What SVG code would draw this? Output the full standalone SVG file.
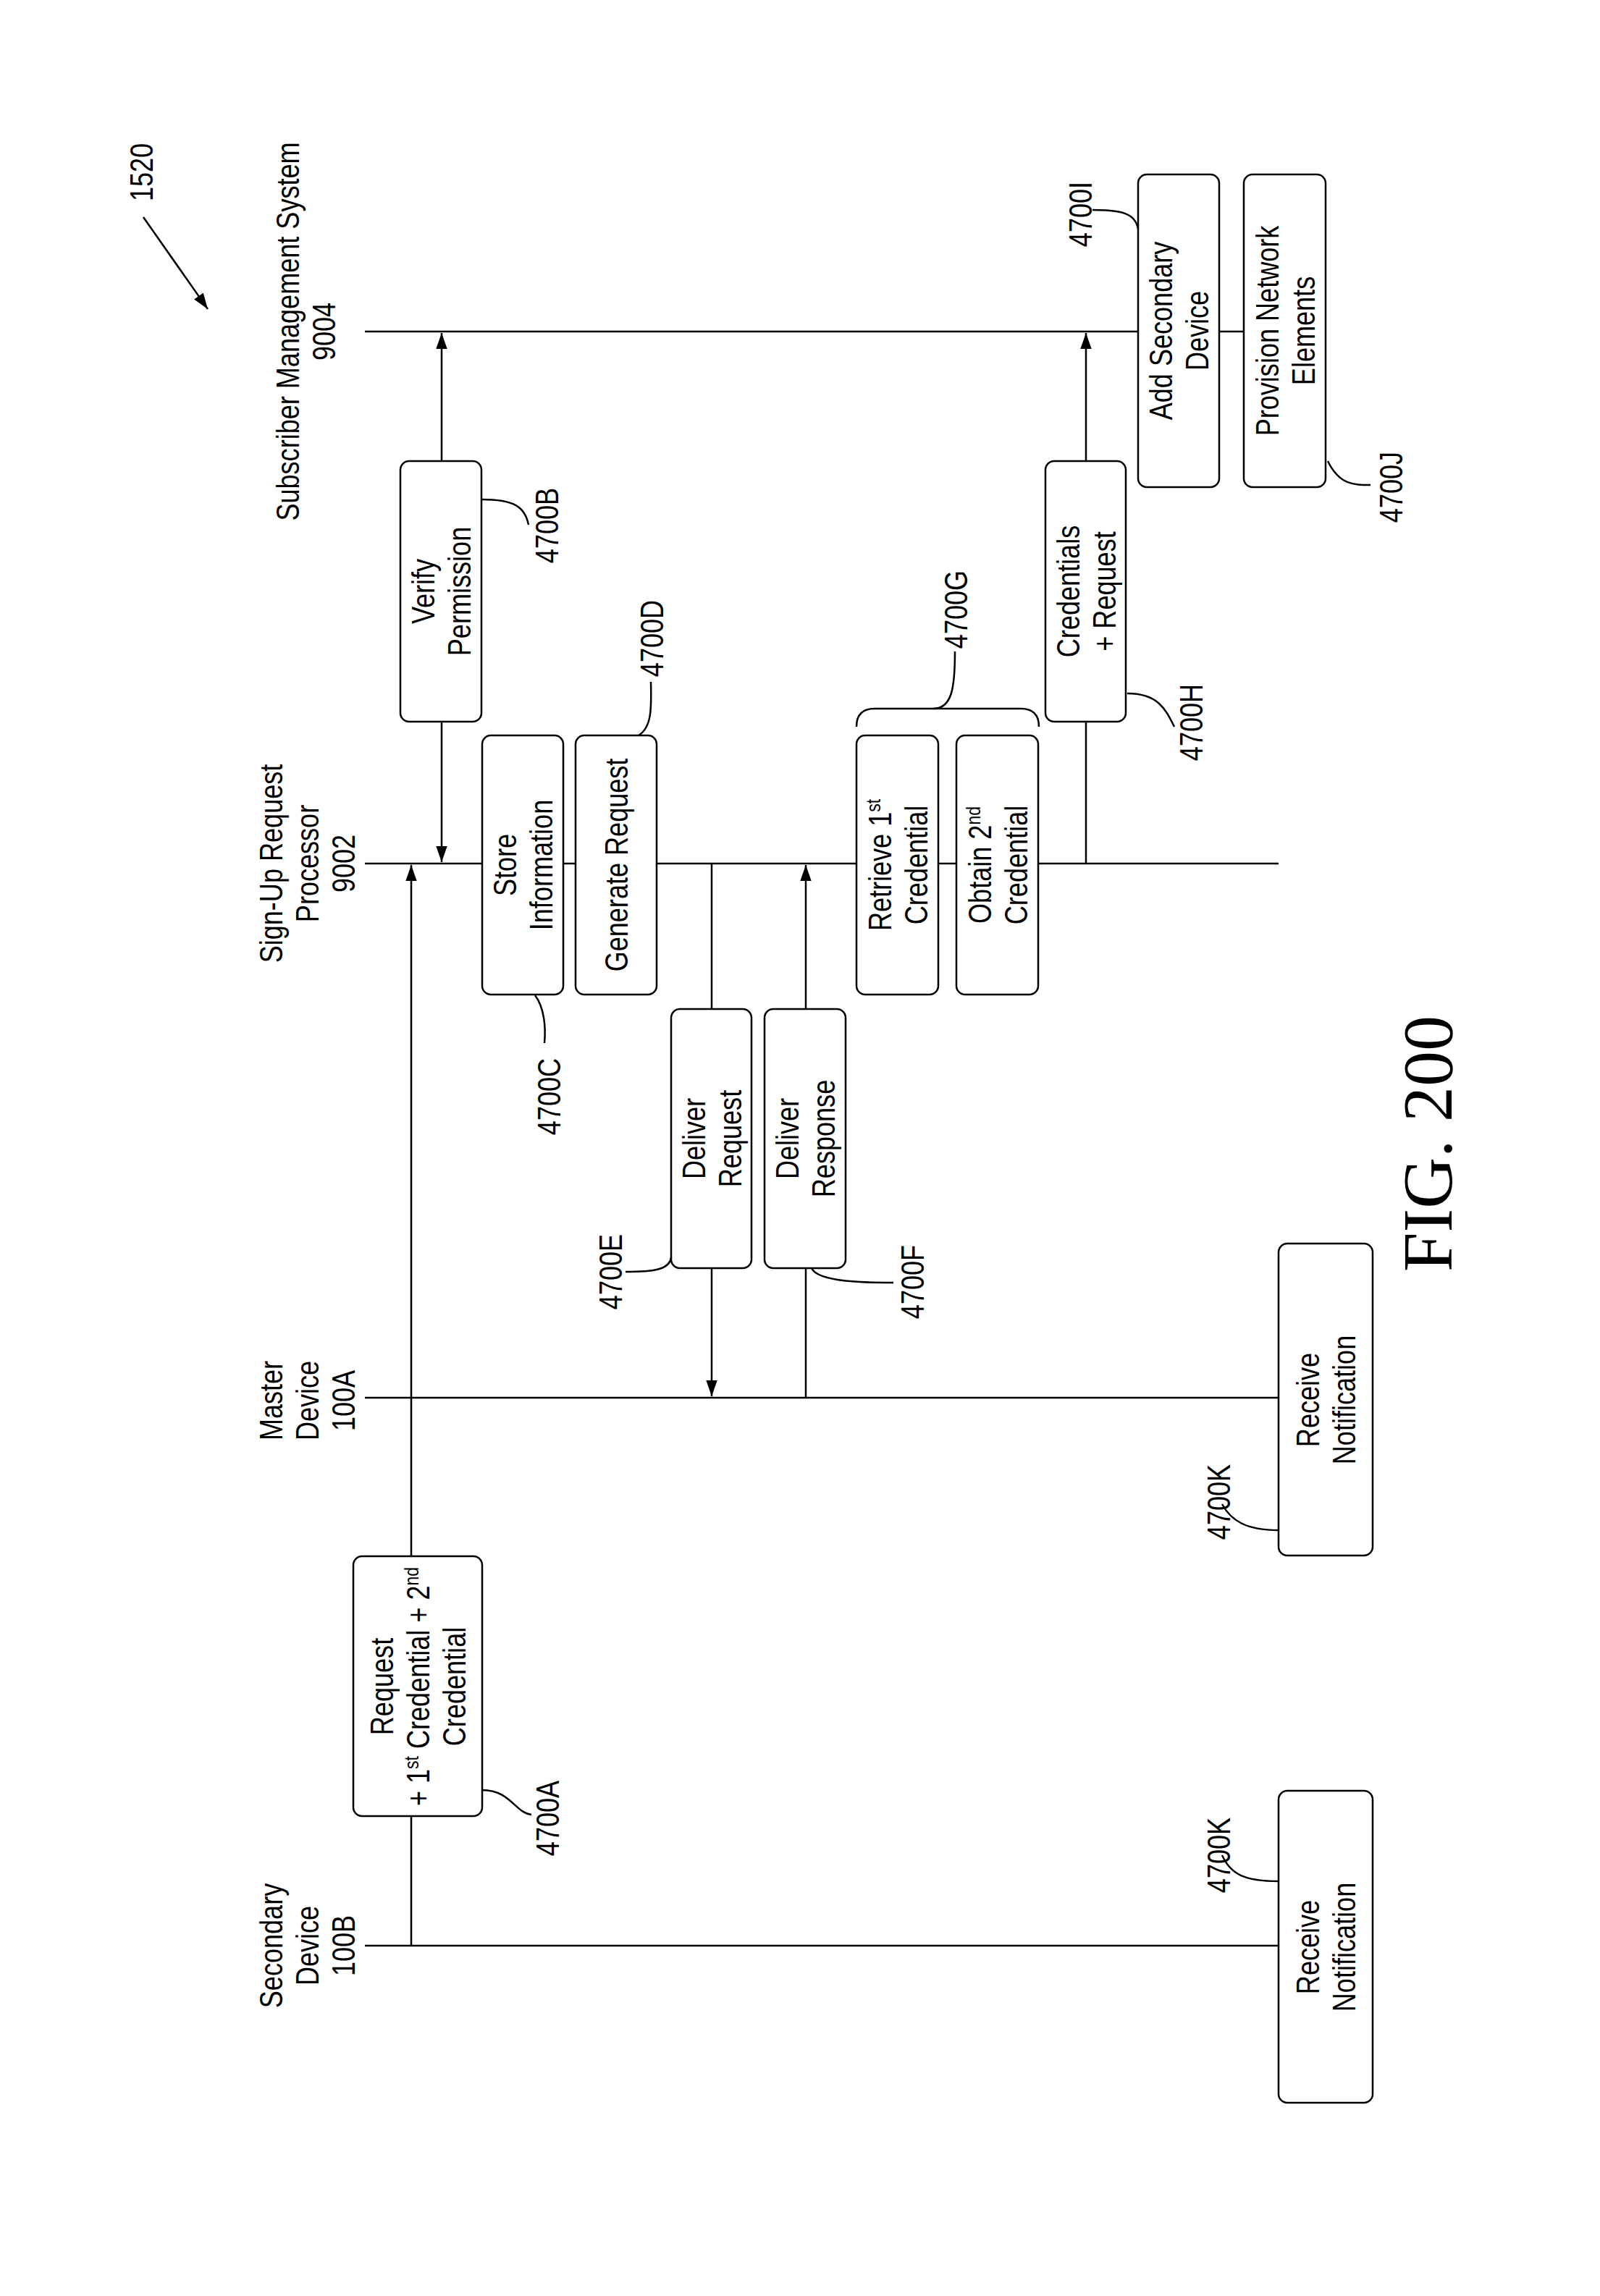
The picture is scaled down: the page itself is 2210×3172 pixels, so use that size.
<svg xmlns="http://www.w3.org/2000/svg" width="2210" height="3172" viewBox="0 0 2210 3172">
<style>
.t{font-family:"Liberation Sans",Arial,sans-serif;font-size:44px;fill:#000;text-anchor:middle}
.b{fill:#fff;stroke:#000;stroke-width:2.5}
.l{stroke:#000;stroke-width:2.5;fill:none}
.s{font-size:28px;baseline-shift:super}
</style>
<defs>
<marker id="ah" viewBox="0 0 10 10" refX="10" refY="5" markerWidth="9" markerHeight="9" markerUnits="userSpaceOnUse" orient="auto-start-reverse"><path d="M0,0 L10,5 L0,10 z" fill="#000"/></marker>
<marker id="a" viewBox="0 0 10 10" refX="10" refY="5" markerWidth="22" markerHeight="22" markerUnits="userSpaceOnUse" orient="auto-start-reverse"><path d="M0,1.5 L10,5 L0,8.5 z" fill="#000"/></marker>
</defs>
<rect width="2210" height="3172" fill="#fff"/>
<g id="lifelines">
<line class="l" x1="504" y1="458" x2="1718" y2="458"/>
<line class="l" x1="504" y1="1193" x2="1766" y2="1193"/>
<line class="l" x1="504" y1="1931" x2="1766" y2="1931"/>
<line class="l" x1="504" y1="2688" x2="1766" y2="2688"/>
</g>
<g id="connectors">
<line class="l" x1="568" y1="2688" x2="568" y2="1195" marker-end="url(#a)"/>
<line class="l" x1="610" y1="460" x2="610" y2="1191" marker-start="url(#a)" marker-end="url(#a)"/>
<line class="l" x1="983" y1="1193" x2="983" y2="1929" marker-end="url(#a)"/>
<line class="l" x1="1113" y1="1931" x2="1113" y2="1195" marker-end="url(#a)"/>
<line class="l" x1="1500" y1="1193" x2="1500" y2="460" marker-end="url(#a)"/>
<line class="l" x1="198" y1="300" x2="287" y2="427" marker-end="url(#a)"/>
</g>
<g id="labels">
<text class="t" transform="translate(424,2688) rotate(-90) scale(0.82,1)"><tspan x="0" y="-34">Secondary</tspan><tspan x="0" y="16">Device</tspan><tspan x="0" y="66">100B</tspan></text>
<text class="t" transform="translate(424,1935) rotate(-90) scale(0.82,1)"><tspan x="0" y="-34">Master</tspan><tspan x="0" y="16">Device</tspan><tspan x="0" y="66">100A</tspan></text>
<text class="t" transform="translate(424,1193) rotate(-90) scale(0.82,1)"><tspan x="0" y="-34">Sign-Up Request</tspan><tspan x="0" y="16">Processor</tspan><tspan x="0" y="66">9002</tspan></text>
<text class="t" transform="translate(422,458) rotate(-90) scale(0.82,1)"><tspan x="0" y="-9">Subscriber Management System</tspan><tspan x="0" y="41">9004</tspan></text>
<text class="t" transform="translate(195,238) rotate(-90) scale(0.82,1)"><tspan x="0" y="16">1520</tspan></text>
<text transform="translate(2005,1580) rotate(-90)" font-family="Liberation Serif,Times New Roman,serif" font-size="98" text-anchor="middle">FIG. 200</text>
</g>
<g id="n4700A"><rect class="b" x="488" y="2150" width="178" height="359" rx="12"/>
<text class="t" transform="translate(577,2330) rotate(-90) scale(0.82,1)"><tspan x="0" y="-34">Request</tspan><tspan x="0" y="16">+ 1<tspan class="s">st</tspan> Credential + 2<tspan class="s">nd</tspan></tspan><tspan x="0" y="66">Credential</tspan></text></g>
<g id="n4700B"><rect class="b" x="553" y="637" width="112" height="360" rx="12"/>
<text class="t" transform="translate(609,817) rotate(-90) scale(0.82,1)"><tspan x="0" y="-9">Verify</tspan><tspan x="0" y="41">Permission</tspan></text></g>
<g id="n4700C"><rect class="b" x="666" y="1016" width="112" height="358" rx="12"/>
<text class="t" transform="translate(722,1195) rotate(-90) scale(0.82,1)"><tspan x="0" y="-9">Store</tspan><tspan x="0" y="41">Information</tspan></text></g>
<g id="n4700D"><rect class="b" x="795" y="1016" width="112" height="358" rx="12"/>
<text class="t" transform="translate(851,1195) rotate(-90) scale(0.82,1)"><tspan x="0" y="16">Generate Request</tspan></text></g>
<g id="n4700E"><rect class="b" x="927" y="1394" width="111" height="358" rx="12"/>
<text class="t" transform="translate(983,1573) rotate(-90) scale(0.82,1)"><tspan x="0" y="-9">Deliver</tspan><tspan x="0" y="41">Request</tspan></text></g>
<g id="n4700F"><rect class="b" x="1056" y="1394" width="112" height="358" rx="12"/>
<text class="t" transform="translate(1112,1573) rotate(-90) scale(0.82,1)"><tspan x="0" y="-9">Deliver</tspan><tspan x="0" y="41">Response</tspan></text></g>
<g id="n4700G1"><rect class="b" x="1183" y="1016" width="113" height="358" rx="12"/>
<text class="t" transform="translate(1240,1195) rotate(-90) scale(0.82,1)"><tspan x="0" y="-9">Retrieve 1<tspan class="s">st</tspan></tspan><tspan x="0" y="41">Credential</tspan></text></g>
<g id="n4700G2"><rect class="b" x="1321" y="1016" width="113" height="358" rx="12"/>
<text class="t" transform="translate(1378,1195) rotate(-90) scale(0.82,1)"><tspan x="0" y="-9">Obtain 2<tspan class="s">nd</tspan></tspan><tspan x="0" y="41">Credential</tspan></text></g>
<g id="n4700H"><rect class="b" x="1444" y="637" width="111" height="360" rx="12"/>
<text class="t" transform="translate(1500,817) rotate(-90) scale(0.82,1)"><tspan x="0" y="-9">Credentials</tspan><tspan x="0" y="41">+ Request</tspan></text></g>
<g id="n4700I"><rect class="b" x="1572" y="241" width="112" height="432" rx="12"/>
<text class="t" transform="translate(1628,457) rotate(-90) scale(0.82,1)"><tspan x="0" y="-9">Add Secondary</tspan><tspan x="0" y="41">Device</tspan></text></g>
<g id="n4700J"><rect class="b" x="1718" y="241" width="113" height="432" rx="12"/>
<text class="t" transform="translate(1775,457) rotate(-90) scale(0.82,1)"><tspan x="0" y="-9">Provision Network</tspan><tspan x="0" y="41">Elements</tspan></text></g>
<g id="n4700K1"><rect class="b" x="1766" y="1718" width="130" height="431" rx="12"/>
<text class="t" transform="translate(1831,1934) rotate(-90) scale(0.82,1)"><tspan x="0" y="-9">Receive</tspan><tspan x="0" y="41">Notification</tspan></text></g>
<g id="n4700K2"><rect class="b" x="1766" y="2474" width="130" height="431" rx="12"/>
<text class="t" transform="translate(1831,2690) rotate(-90) scale(0.82,1)"><tspan x="0" y="-9">Receive</tspan><tspan x="0" y="41">Notification</tspan></text></g>
<g id="refs">
<path class="l" d="M666,2473 C705,2473 712,2505 734,2507"/>
<text class="t" transform="translate(756,2512) rotate(-90) scale(0.82,1)"><tspan x="0" y="16">4700A</tspan></text>
<path class="l" d="M665,690 C710,690 725,700 730,725"/>
<text class="t" transform="translate(755,726) rotate(-90) scale(0.82,1)"><tspan x="0" y="16">4700B</tspan></text>
<path class="l" d="M739,1375 C752,1392 754,1420 752,1441"/>
<text class="t" transform="translate(758,1515) rotate(-90) scale(0.82,1)"><tspan x="0" y="16">4700C</tspan></text>
<path class="l" d="M882,1016 C900,1005 900,980 899,942"/>
<text class="t" transform="translate(900,882) rotate(-90) scale(0.82,1)"><tspan x="0" y="16">4700D</tspan></text>
<path class="l" d="M864,1757 C900,1757 925,1755 927,1737"/>
<text class="t" transform="translate(843,1757) rotate(-90) scale(0.82,1)"><tspan x="0" y="16">4700E</tspan></text>
<path class="l" d="M1121,1752 C1130,1772 1200,1772 1234,1772"/>
<text class="t" transform="translate(1260,1771) rotate(-90) scale(0.82,1)"><tspan x="0" y="16">4700F</tspan></text>
<path class="l" d="M1183,1004 Q1183,979 1208,979 L1410,979 Q1435,979 1435,1004"/>
<path class="l" d="M1289,979 C1315,979 1319,950 1319,900"/>
<text class="t" transform="translate(1320,842) rotate(-90) scale(0.82,1)"><tspan x="0" y="16">4700G</tspan></text>
<path class="l" d="M1557,958 C1600,958 1610,980 1622,1004"/>
<text class="t" transform="translate(1645,998) rotate(-90) scale(0.82,1)"><tspan x="0" y="16">4700H</tspan></text>
<path class="l" d="M1509,290 C1550,290 1568,295 1572,316"/>
<text class="t" transform="translate(1492,296) rotate(-90) scale(0.82,1)"><tspan x="0" y="16">4700I</tspan></text>
<path class="l" d="M1834,637 C1850,670 1870,670 1893,670"/>
<text class="t" transform="translate(1921,673) rotate(-90) scale(0.82,1)"><tspan x="0" y="16">4700J</tspan></text>
<path class="l" d="M1688,2078 C1700,2100 1720,2114 1766,2114"/>
<text class="t" transform="translate(1683,2075) rotate(-90) scale(0.82,1)"><tspan x="0" y="16">4700K</tspan></text>
<path class="l" d="M1688,2563 C1700,2590 1720,2599 1766,2599"/>
<text class="t" transform="translate(1683,2563) rotate(-90) scale(0.82,1)"><tspan x="0" y="16">4700K</tspan></text>
</g>
</svg>
